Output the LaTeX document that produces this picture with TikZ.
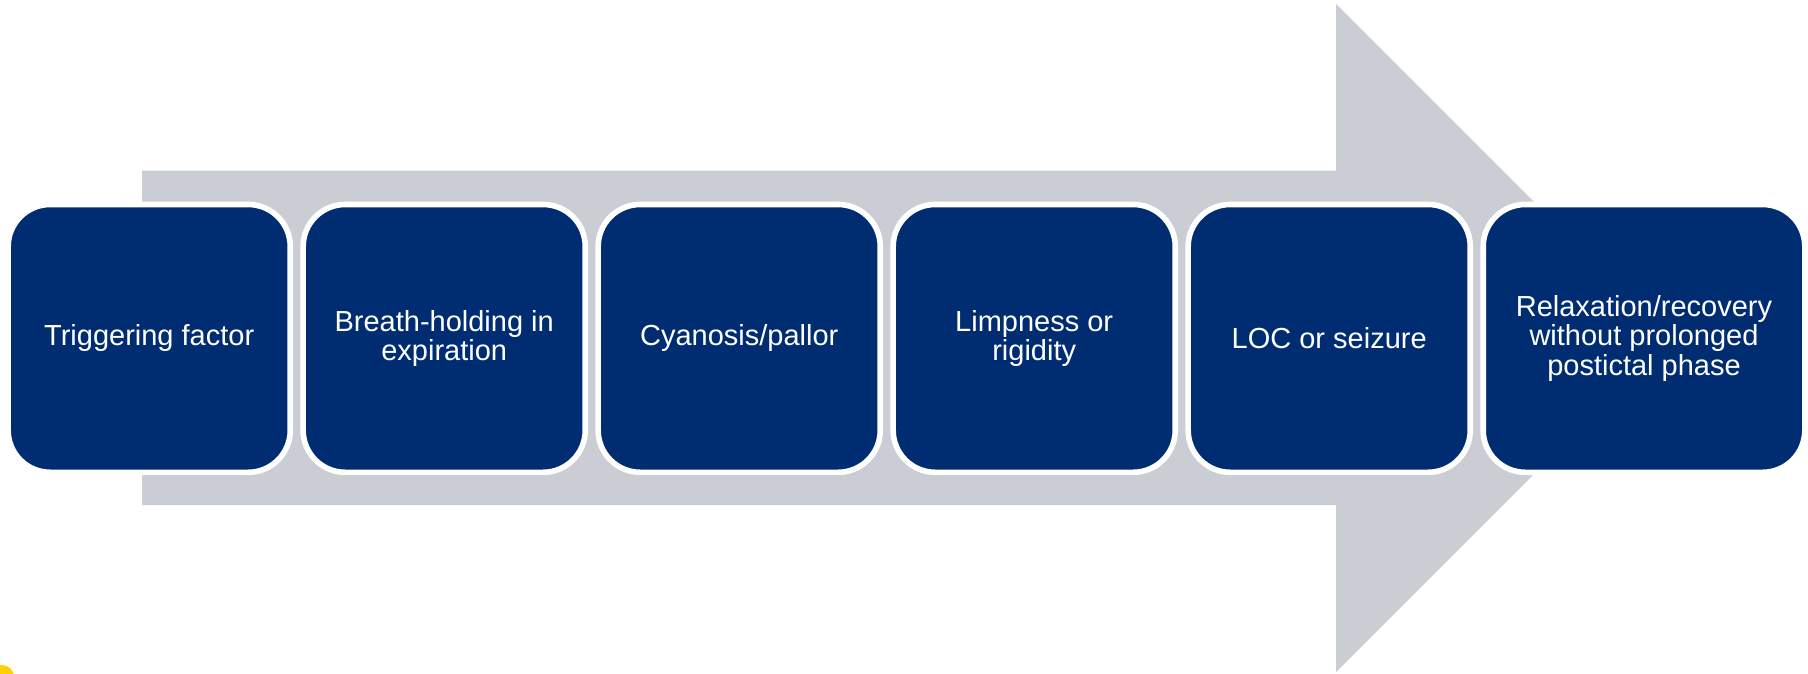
\documentclass[tikz,border=0pt]{standalone}
\usepackage{fontspec}
\setmainfont{Liberation Sans}
\definecolor{boxblue}{RGB}{0,45,114}
\definecolor{arrowgrey}{RGB}{202,205,212}
\definecolor{dotyellow}{RGB}{255,209,0}
\begin{document}
\begin{tikzpicture}[x=1pt,y=-1pt,
  stepbox/.style={rectangle, rounded corners=42pt, fill=boxblue, draw=white,
    line width=5.6pt, minimum width=282.1pt, minimum height=267.8pt,
    text=white, align=center, inner sep=0pt,
    font=\fontsize{29}{29.6}\selectfont},
  bigarrow/.style={fill=arrowgrey, draw=none}]
\useasboundingbox (0,0) rectangle (1808,674);
\fill[white] (0,0) rectangle (1808,674);
% background arrow
\path[bigarrow] (142,170.7) -- (1336,170.7) -- (1336,4) -- (1670,338) -- (1336,672) -- (1336,505) -- (142,505) -- cycle;
% yellow dot at lower left corner
\fill[dotyellow] (2,677) circle (12);
% process boxes
\node[stepbox] (b1) at (149.2,338.4) {Triggering factor};
\node[stepbox] (b2) at (444.2,338.4) {Breath-holding in\\expiration};
\node[stepbox] (b3) at (739.2,338.4) {Cyanosis/pallor};
\node[stepbox] (b4) at (1034.2,338.4) {Limpness or\\rigidity};
\node[stepbox] (b5) at (1329.2,338.4) {LOC or seizure};
\node[stepbox, minimum width=321.6pt] (b6) at (1644,338.4) {Relaxation/recovery\\without prolonged\\postictal phase};
\end{tikzpicture}
\end{document}
